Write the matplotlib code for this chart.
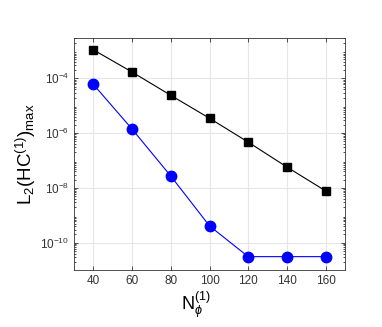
import matplotlib
matplotlib.use("Agg")
import matplotlib.pyplot as plt
from matplotlib.ticker import LogLocator, NullFormatter

plt.rcParams['font.family'] = ['Liberation Sans', 'DejaVu Sans']
plt.rcParams['mathtext.fontset'] = 'custom'
plt.rcParams['mathtext.rm'] = 'Liberation Sans'
plt.rcParams['mathtext.it'] = 'Liberation Sans:italic'

n_phi = [40, 60, 80, 100, 120, 140, 160]
err_black = [1.1e-3, 1.7e-4, 2.4e-5, 3.5e-6, 4.7e-7, 5.8e-8, 7.8e-9]
err_blue = [6.0e-5, 1.4e-6, 2.7e-8, 4.1e-10, 3.1e-11, 3.1e-11, 3.1e-11]
xticks = [40, 60, 80, 100, 120, 140, 160]
yticks = [1e-10, 1e-8, 1e-6, 1e-4]

fig = plt.figure(figsize=(3.82, 3.27), dpi=100)
ax = fig.add_axes([0.194, 0.174, 0.709, 0.710])

ax.semilogy(n_phi, err_black, '-s', color='black', lw=0.8, markersize=6)
ax.semilogy(n_phi, err_blue, '-o', color='blue', lw=0.8, markersize=7.5)

ax.set_xlim(30, 170)
ax.set_ylim(1e-11, 3e-3)
ax.set_xticks(xticks)
ax.set_yticks(yticks)
ax.yaxis.set_minor_locator(LogLocator(base=10, subs=range(2, 10), numticks=20))
ax.yaxis.set_minor_formatter(NullFormatter())
ax.grid(True, which='major', color='#e6e6e6', lw=0.8)
ax.set_axisbelow(True)
ax.tick_params(which='both', direction='in', top=True, right=True,
               labelsize=8.5, colors='#333333', width=0.6)
ax.tick_params(which='major', length=3)
ax.tick_params(which='minor', length=1.5)
for s in ax.spines.values():
    s.set_color('#333333')
    s.set_linewidth(0.6)

ax.set_ylabel(r'L$_2$(HC$^{(1)}$)$_{\mathrm{max}}$', fontsize=13.5, labelpad=2)
ax.set_xlabel(r'N$_{\phi}^{(1)}$', fontsize=13, labelpad=2)
ax.xaxis.set_label_coords(0.45, -0.085, transform=ax.transAxes)
ax.xaxis.label.set_va('top')

fig.savefig('out.png', dpi=100)
